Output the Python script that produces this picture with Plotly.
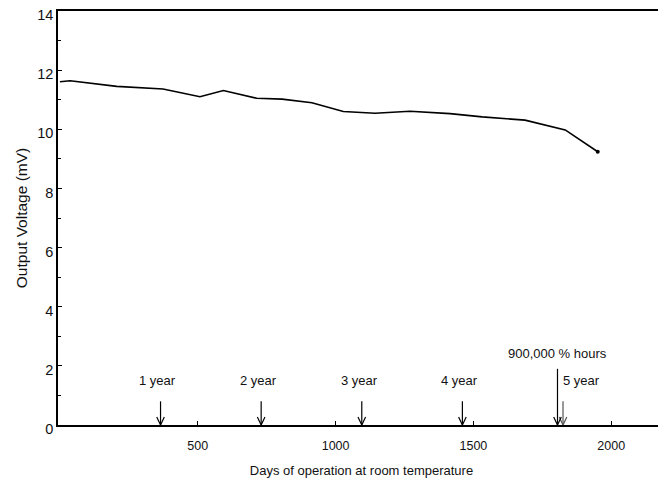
import plotly.graph_objects as go

# Data
days = [0, 37, 206, 374, 508, 593, 714, 806, 914, 1028, 1143, 1270, 1415, 1532, 1687, 1833, 1951]
voltage = [11.61, 11.64, 11.45, 11.36, 11.10, 11.31, 11.05, 11.02, 10.90, 10.60, 10.54, 10.61, 10.53, 10.42, 10.31, 9.98, 9.24]

year_days = [365, 730, 1095, 1460, 1825]
year_labels = ["1 year", "2 year", "3 year", "4 year", "5 year"]
hours_day = 1805
hours_label = "900,000 % hours"

x_ticks = [500, 1000, 1500, 2000]
y_ticks = [0, 2, 4, 6, 8, 10, 12, 14]

W, H = 658, 477
ml, mr, mt, mb = 50, 1, 3, 60
x_range = [-7, 2195]
y_range = [0, 14]
px_per_day = (W - ml - mr) / (x_range[1] - x_range[0])
px_per_unit = (H - mt - mb) / (y_range[1] - y_range[0])

fig = go.Figure()
fig.add_trace(go.Scatter(x=days, y=voltage, mode="lines", line=dict(color="black", width=1.6),
                         showlegend=False, hoverinfo="skip"))
fig.add_trace(go.Scatter(x=[days[-1]], y=[voltage[-1]], mode="markers",
                         marker=dict(color="black", size=4), showlegend=False, hoverinfo="skip"))


def arrow(d, top, color, width):
    hx = 3.8 / px_per_day
    hy = 8 / px_per_unit
    fig.add_trace(go.Scatter(
        x=[d, d, None, d - hx, d, d + hx],
        y=[top, 0, None, hy, 0, hy],
        mode="lines", line=dict(color=color, width=width),
        showlegend=False, hoverinfo="skip"))


arrow_top = 0.8
for d, lab in zip(year_days, year_labels):
    col = "#555555" if lab == "5 year" else "black"
    arrow(d, arrow_top, col, 1.2)

arrow(hours_day, 1.9, "black", 1.2)

font = dict(family="Liberation Sans, Arial, sans-serif", size=13, color="#111")
for d, lab in zip(year_days, year_labels):
    if lab == "5 year":
        fig.add_annotation(x=d, y=1.52, text=lab, showarrow=False, xanchor="left",
                           xshift=-2, font=font)
    else:
        fig.add_annotation(x=d - 10, y=1.52, text=lab, showarrow=False, xanchor="center", font=font)
fig.add_annotation(x=hours_day, y=2.42, text=hours_label, showarrow=False, xanchor="center", font=font)

# light gray right border
fig.add_shape(type="line", xref="paper", yref="paper", x0=1, x1=1, y0=0, y1=1,
              line=dict(color="#cccccc", width=1))

fig.update_layout(
    width=W, height=H,
    margin=dict(l=ml, r=mr, t=mt, b=mb),
    plot_bgcolor="white", paper_bgcolor="white",
    font=font,
    xaxis=dict(range=x_range, tickvals=x_ticks, ticks="inside", ticklen=4, tickcolor="black",
               showline=True, linecolor="black", linewidth=1.5, mirror=True,
               showgrid=False, zeroline=False, ticklabelstandoff=8,
               title=dict(text="Days of operation at room temperature", standoff=14,
                          font=dict(size=13)),
               tickfont=dict(size=12.5)),
    yaxis=dict(range=y_range, tickvals=y_ticks, ticks="inside", ticklen=4, tickcolor="black",
               showline=True, linecolor="black", linewidth=1.5, mirror=False,
               showgrid=False, zeroline=False, ticklabeloverflow="allow",
               automargin="left+right", ticklabelshift=4,
               minor=dict(tickvals=[1, 3, 5, 7, 9, 11, 13], ticks="inside", ticklen=3,
                          tickcolor="black", showgrid=False),
               title=dict(text="Output Voltage (mV)", standoff=6, font=dict(size=15.5)),
               tickfont=dict(size=14.5)),
)

fig.write_html("out.html")
